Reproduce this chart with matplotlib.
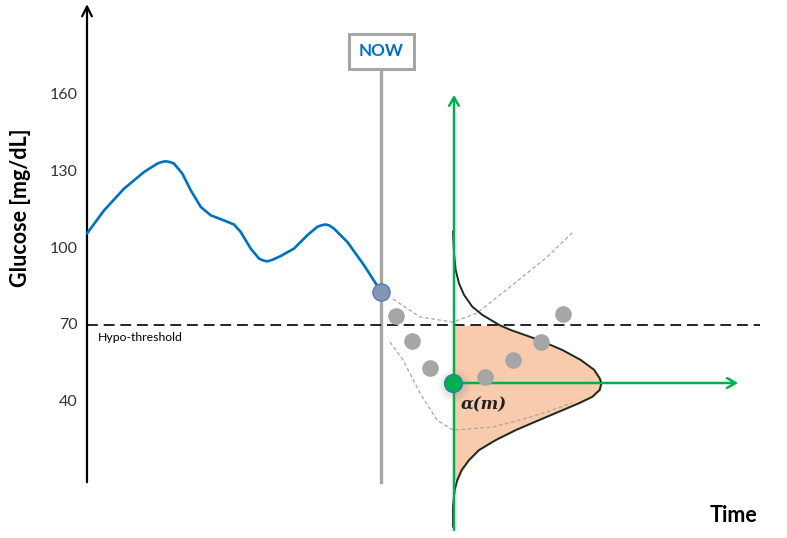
"""Glucose forecast sketch: CGM history, predicted readings and hypo-risk density."""

import matplotlib

matplotlib.use("Agg")
import matplotlib.pyplot as plt

plt.rcParams["font.family"] = ["Lato", "DejaVu Sans"]

BLUE = "#0070C0"
GREEN = "#00B050"
GRAY = "#A6A6A6"
PEACH = "#F8CBAD"

# measured glucose history (time index, mg/dL)
hist_t = [0, 17, 37, 57, 70.3, 74.5, 78.7, 83, 87, 95.3, 103.7, 113.7, 123.7, 137,
          147, 153.7, 163.7, 172, 176, 180.3, 186, 193.7, 207, 220.3, 230.3, 234.5,
          238.7, 242.5, 247, 260.3, 277, 292, 294]
hist_g = [105.9, 114.9, 123.4, 129.9, 133.2, 133.8, 134.1, 133.8, 133.2, 129.3,
          122.8, 116.3, 113.0, 111.0, 109.4, 106.5, 100.0, 96.1, 95.4, 95.0, 95.7,
          97.1, 100.0, 105.2, 108.5, 109.1, 109.4, 109.0, 107.8, 102.6, 93.5, 84.4, 83.0]
now_t = 294
now_g = 83.0

# forecast points
pred_t = [309, 325, 343, 398, 426, 454, 476]
pred_g = [73.7, 63.9, 53.4, 49.8, 56.5, 63.5, 74.5]

# forecast band (upper / lower)
upper_t = [306, 333, 366, 390, 423, 460, 485]
upper_g = [80.3, 73.3, 71.3, 74.8, 85.0, 96.7, 106.1]
lower_t = [303, 316, 333, 350, 366, 406, 440, 460, 485]
lower_g = [63.5, 56.5, 43.6, 33.0, 29.1, 30.3, 33.8, 36.2, 39.7]

# predictive density at the horizon m (glucose, width along time)
horizon_t = 367
horizon_g = 47.5
dens_g = [106.6, 98.2, 91.6, 86.4, 81.9, 77.3, 74.1, 70.0, 68.2, 64.3, 60.4, 56.5,
          52.7, 49.3, 47.4, 44.8, 42.1, 39.6, 36.3, 33.0, 29.1, 25.2, 21.3, 17.4,
          13.5, 9.6, 5.7, -0.8, -8.6]
dens_w = [0, 1, 2.7, 6, 11, 19.3, 29.3, 47, 57.7, 86, 109.3, 127.7, 141, 146.7,
          148.3, 146.7, 139.3, 126, 106, 86, 62.7, 42.7, 26, 16, 8.7, 4.3, 1.7, 0, 0]

hypo = 70
y_ticks = [40, 70, 100, 130, 160]
axis_g = 8.75

fig = plt.figure(figsize=(7.87, 5.38), dpi=100)
ax = fig.add_axes([0, 0, 1, 1])
ax.set_xlim(-87, 700)
ax.set_ylim(-13.05, 197.1)
for s in ax.spines.values():
    s.set_visible(False)
ax.set_xticks([])
ax.set_yticks([])

for v in y_ticks:
    ax.text(-9, v, str(v), ha="right", va="center", fontsize=11.5, color="#333333")

# axes with arrow heads
ax.annotate("", xy=(0, 195.5), xytext=(0, axis_g),
            arrowprops=dict(arrowstyle="->,head_length=0.7,head_width=0.35",
                            lw=1.6, color="black", shrinkA=0, shrinkB=0))
ax.annotate("", xy=(704, axis_g), xytext=(0, axis_g),
            arrowprops=dict(arrowstyle="->,head_length=0.7,head_width=0.35",
                            lw=1.6, color="black", shrinkA=0, shrinkB=0))

ax.text(-66, 116, "Glucose [mg/dL]", rotation=90, ha="center", va="center",
        fontsize=15.5, fontweight="bold")
ax.text(647, -4.1, "Time", ha="center", va="center", fontsize=15.5, fontweight="bold")

# hypo threshold
ax.plot([0, 673], [hypo, hypo], color="black", lw=1.2, ls=(0, (6.5, 3.5)), zorder=2)
ax.text(11, 65.1, "Hypo-threshold", ha="left", va="center", fontsize=8.8)

# NOW marker
ax.plot([now_t, now_t], [axis_g, 170], color=GRAY, lw=2.4, zorder=1)
ax.text(now_t + 0.5, 177, "NOW", ha="center", va="center", fontsize=12.3,
        fontweight="bold", color=BLUE,
        bbox=dict(boxstyle="square,pad=0.58", fc="white", ec=GRAY, lw=2.2))

# density shape, shaded below the threshold
fill_g = [g for g in dens_g if axis_g <= g <= hypo]
fill_x = [horizon_t + w for g, w in zip(dens_g, dens_w) if axis_g <= g <= hypo]
ax.fill_betweenx(fill_g, horizon_t, fill_x, color=PEACH, lw=0, zorder=1)
ax.plot([horizon_t - 1 + w for w in dens_w], dens_g, color="#1B2A1B", lw=1.4,
        solid_joinstyle="round", zorder=3)

# forecast band
ax.plot(upper_t, upper_g, color=GRAY, lw=0.9, ls=(0, (3, 2)), zorder=2)
ax.plot(lower_t, lower_g, color=GRAY, lw=0.9, ls=(0, (3, 2)), zorder=2)

# green axes of the density
ax.annotate("", xy=(horizon_t, 160), xytext=(horizon_t, -9.9),
            arrowprops=dict(arrowstyle="->,head_length=0.6,head_width=0.35",
                            lw=1.8, color=GREEN, shrinkA=0, shrinkB=0), zorder=4)
ax.annotate("", xy=(651, horizon_g), xytext=(horizon_t, horizon_g),
            arrowprops=dict(arrowstyle="->,head_length=0.6,head_width=0.35",
                            lw=1.8, color=GREEN, shrinkA=0, shrinkB=0), zorder=4)

# history and forecast points
ax.plot(hist_t, hist_g, color=BLUE, lw=1.9, solid_capstyle="round",
        solid_joinstyle="round", zorder=3)
ax.plot(pred_t, pred_g, "o", ms=12, color=GRAY, mec="none", zorder=5)
ax.plot(now_t, now_g, "o", ms=12.5, color="#8497B0", mec="#4472C4", mew=0.8, zorder=6)
for ms, a in [(24, 0.06), (20, 0.08), (16, 0.1)]:
    ax.plot(horizon_t - 0.5, horizon_g - 0.8, "o", ms=ms, color="gray", alpha=a,
            mec="none", zorder=6)
ax.plot(horizon_t - 1, horizon_g, "o", ms=13, color=GREEN, mec="#2F75B5", mew=0.8, zorder=7)

ax.text(397, 38.9, "α(m)", ha="center", va="center", fontsize=12,
        family="DejaVu Serif", fontweight="bold", fontstyle="italic", color="#222222")

fig.savefig("out.png", dpi=100)
